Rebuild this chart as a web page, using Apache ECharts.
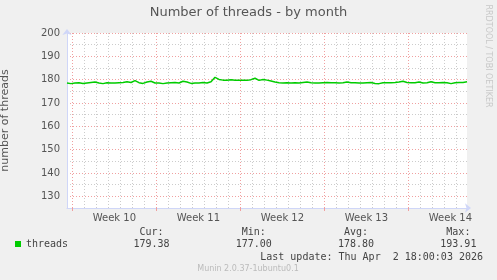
<!DOCTYPE html>
<html><head><meta charset="utf-8">
<script src="https://cdn.jsdelivr.net/npm/echarts@6/dist/echarts.min.js"></script>
<style>html,body{margin:0;padding:0;background:#f0f0f0}#c{width:497px;height:280px}</style>
</head><body><div id="c"></div>
<script>
const titleText = 'Number of threads - by month';
const yAxisName = 'number of threads';
const seriesName = 'threads';
// samples every 8 hours, x in days relative to start of Week 10
const sampleStart = -0.45;
const sampleStepDays = 1 / 3;
const threads = [
 178.6,178.3,178.6,178.7,178.4,178.6,178.8,179.0,178.6,178.3,
 178.7,178.6,178.6,178.7,178.8,179.1,178.8,179.6,178.7,178.4,
 179.0,179.3,178.6,178.6,178.3,178.6,178.7,178.8,178.6,179.3,
 179.0,178.4,178.6,178.6,178.8,178.6,179.1,181.0,180.1,179.8,
 179.8,180.0,179.8,179.8,179.7,179.7,180.0,180.6,179.7,180.1,
 179.8,179.4,179.0,178.7,178.6,178.7,178.6,178.7,178.6,178.8,
 179.0,178.7,178.6,178.6,178.7,178.8,178.7,178.7,178.6,178.7,
 179.0,178.7,178.7,178.6,178.6,178.7,178.8,178.4,178.3,178.7,
 178.7,178.7,178.8,179.0,179.3,178.8,178.7,178.7,179.0,178.6,
 178.7,179.1,178.7,178.7,178.8,178.7,178.3,178.7,178.8,178.8,
 179.1
];
const xMin = -0.45, xMax = 32.88;
const dayLines = [0,1,2,3,4,5,6,7,8,9,10,11,12,13,14,15,16,17,18,19,20,21,22,23,24,25,26,27,28,29,30,31,32];
const weekStarts = [0,7,14,21,28];
const weekLabelPos = [3.5,10.5,17.5,24.5,31.5];
const weekLabels = ['Week 10','Week 11','Week 12','Week 13','Week 14'];
const yMin = 125, yMax = 200, yStep = 5;
const statLabels = ['Cur:','Min:','Avg:','Max:'];
const statValues = ['179.38','177.00','178.80','193.91'];
const lastUpdate = 'Last update: Thu Apr  2 18:00:03 2026';
const footer = 'Munin 2.0.37-1ubuntu0.1';
const watermark = 'RRDTOOL / TOBI OETIKER';

const GRAY = '#cccccc', RED = '#f0a0a0', AXIS = '#CFD6F8', FONT = '#555555';
const MONO = '10px "DejaVu Sans Mono"';
const points = threads.map((v, i) => [sampleStart + i * sampleStepDays, v]);

const graphic = [
  {type:'text', x:488, y:56, rotation:-Math.PI/2, style:{text:watermark, font:'8px "DejaVu Sans"', fill:'#c8c8c8', textAlign:'center', align:'center', textVerticalAlign:'middle', verticalAlign:'middle'}},
  {type:'text', x:483, y:257, style:{text:lastUpdate, font:MONO, fill:'#444', textAlign:'right', align:'right', textVerticalAlign:'middle', verticalAlign:'middle'}},
  {type:'text', x:248, y:269, style:{text:footer, font:'8px "DejaVu Sans"', fill:'#bbbbbb', textAlign:'center', align:'center', textVerticalAlign:'middle', verticalAlign:'middle'}}
];
statLabels.forEach((t, k) => graphic.push({type:'text', x:163.5 + k * 102.3, y:232.5,
  style:{text:t, font:MONO, fill:'#444', textAlign:'right', align:'right', textVerticalAlign:'middle', verticalAlign:'middle'}}));
statValues.forEach((t, k) => graphic.push({type:'text', x:169.5 + k * 102.3, y:244.7,
  style:{text:t, font:MONO, fill:'#444', textAlign:'right', align:'right', textVerticalAlign:'middle', verticalAlign:'middle'}}));

const chart = echarts.init(document.getElementById('c'), null, {renderer:'canvas'});
chart.setOption({
  animation:false,
  backgroundColor:'#f0f0f0',
  title:{text:titleText, left:'center', top:6, padding:0,
    textStyle:{fontFamily:'DejaVu Sans', fontSize:13, fontWeight:'normal', color:FONT}},
  legend:{data:[seriesName], left:15, top:239, padding:0, itemWidth:6, itemHeight:6, icon:'rect',
    selectedMode:false, textStyle:{fontFamily:'DejaVu Sans Mono', fontSize:10, color:'#444'}},
  grid:{left:67, top:33, width:400, height:175, show:true, backgroundColor:'#ffffff', borderWidth:0, outerBoundsMode:'none', containLabel:false},
  xAxis:[
    {type:'value', min:xMin, max:xMax, position:'bottom',
      axisLine:{show:false, onZero:false}, axisTick:{show:false, customValues:dayLines},
      axisLabel:{show:false}, splitLine:{show:true, lineStyle:{color:GRAY, type:[1,2], width:1}}},
    {type:'value', min:xMin, max:xMax, position:'bottom',
      axisLine:{show:true, onZero:false, lineStyle:{color:AXIS, width:1}, symbol:['none','arrow'], symbolSize:[7,6], symbolOffset:[0,4]},
      axisTick:{show:true, customValues:weekStarts, length:3, lineStyle:{color:RED}},
      axisLabel:{customValues:weekLabelPos, formatter:v => weekLabels[weekLabelPos.indexOf(v)] || '',
        margin:5, fontFamily:'DejaVu Sans', fontSize:10, color:FONT},
      splitLine:{show:true, lineStyle:{color:RED, type:[1,2], width:1}}}
  ],
  yAxis:{type:'value', min:yMin, max:yMax, interval:yStep,
    name:yAxisName, nameLocation:'middle', nameRotate:90, nameGap:56,
    nameTextStyle:{fontFamily:'DejaVu Sans', fontSize:11, color:FONT},
    axisLine:{show:true, onZero:false, lineStyle:{color:AXIS, width:1}, symbol:['none','arrow'], symbolSize:[7,6], symbolOffset:[0,4]},
    axisTick:{show:false},
    axisLabel:{formatter:v => (v % 10 === 0 ? String(v) : ''), margin:7, fontFamily:'DejaVu Sans', fontSize:10, color:FONT},
    splitLine:{show:true, lineStyle:{color:[GRAY, RED], type:[1,2], width:1}}},
  graphic:graphic,
  series:[{type:'line', name:seriesName, xAxisIndex:1, data:points, symbol:'none', showSymbol:false,
    lineStyle:{color:'#00cc00', width:1.5}, itemStyle:{color:'#00cc00'}}]
});
</script></body></html>
